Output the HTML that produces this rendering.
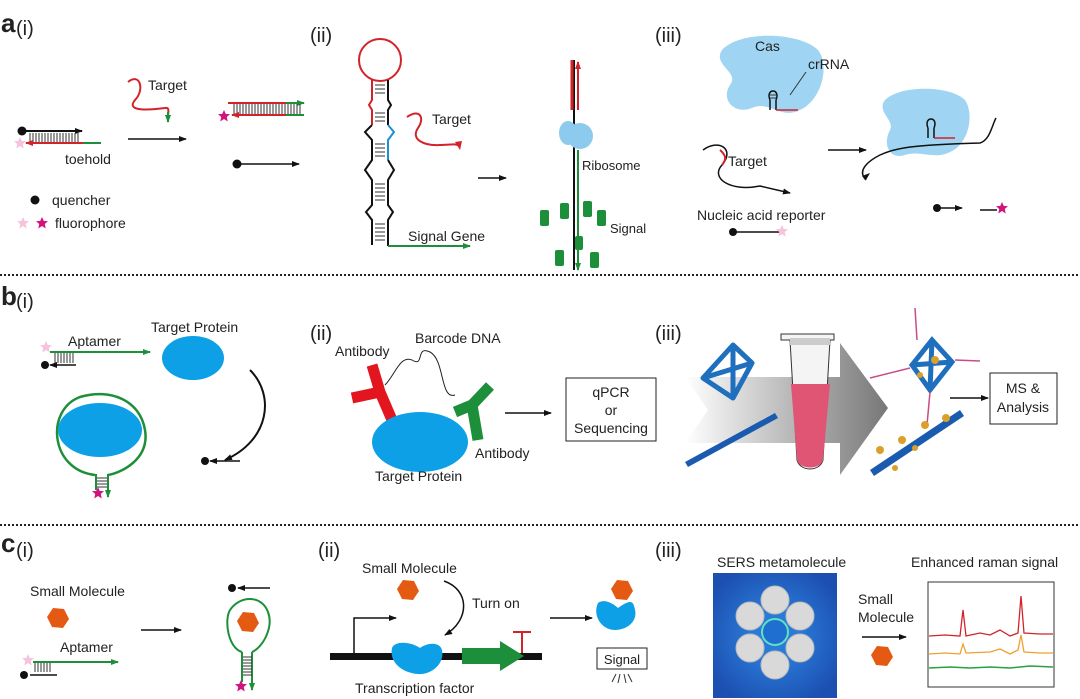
<!DOCTYPE html>
<html><head><meta charset="utf-8"><style>
html,body{margin:0;padding:0;background:#fff}
svg{display:block}
text{font-family:"Liberation Sans",Arial,sans-serif;fill:#222}
</style></head><body>
<svg width="1080" height="699" viewBox="0 0 1080 699" xmlns="http://www.w3.org/2000/svg">
<defs>
<marker id="ak" markerWidth="8" markerHeight="8" refX="7" refY="4" orient="auto" markerUnits="userSpaceOnUse"><path d="M0,1 L8,4 L0,7Z" fill="#111"/></marker>
<marker id="ag" markerWidth="8" markerHeight="8" refX="7" refY="4" orient="auto" markerUnits="userSpaceOnUse"><path d="M0,1 L8,4 L0,7Z" fill="#1d8f3a"/></marker>
<marker id="ar" markerWidth="8" markerHeight="8" refX="7" refY="4" orient="auto" markerUnits="userSpaceOnUse"><path d="M0,1 L8,4 L0,7Z" fill="#d2232a"/></marker>
<linearGradient id="gband" x1="0" x2="1"><stop offset="0" stop-color="#fff"/><stop offset="1" stop-color="#777"/></linearGradient>
<radialGradient id="sers" cx="0.5" cy="0.5" r="0.6"><stop offset="0.3" stop-color="#2a7ad8"/><stop offset="1" stop-color="#1c4fb0"/></radialGradient>
<path id="star" d="M0,-6 L1.8,-2 L6,-1.9 L2.8,1 L3.7,5.5 L0,3 L-3.7,5.5 L-2.8,1 L-6,-1.9 L-1.8,-2Z"/>
<path id="hex" d="M-5,-10 L6,-9 L11,1 L5,10 L-6,9 L-11,-1Z"/>
</defs>

<!-- separators -->
<line x1="0" y1="275" x2="1080" y2="275" stroke="#222" stroke-width="2" stroke-dasharray="2,2"/>
<line x1="0" y1="525" x2="1080" y2="525" stroke="#222" stroke-width="2" stroke-dasharray="2,2"/>

<!-- labels -->
<text x="1" y="32" font-size="26" font-weight="bold" fill="#000">a</text>
<text x="16" y="35" font-size="20">(i)</text>
<text x="310" y="42" font-size="20">(ii)</text>
<text x="655" y="42" font-size="20">(iii)</text>
<text x="1" y="305" font-size="26" font-weight="bold" fill="#000">b</text>
<text x="16" y="308" font-size="20">(i)</text>
<text x="310" y="340" font-size="20">(ii)</text>
<text x="655" y="340" font-size="20">(iii)</text>
<text x="1" y="552" font-size="26" font-weight="bold" fill="#000">c</text>
<text x="16" y="557" font-size="20">(i)</text>
<text x="318" y="557" font-size="20">(ii)</text>
<text x="655" y="557" font-size="20">(iii)</text>

<!-- a(i) -->
<circle cx="22" cy="131" r="4.5" fill="#111"/>
<line x1="22" y1="131" x2="82" y2="131" stroke="#111" stroke-width="2" marker-end="url(#ak)"/>
<g stroke="#333" stroke-width="1">
<path d="M30,133v9M33,133v9M36,133v9M39,133v9M42,133v9M45,133v9M48,133v9M51,133v9M54,133v9M57,133v9M60,133v9M63,133v9M66,133v9M69,133v9M72,133v9M75,133v9M78,133v9"/></g>
<line x1="83" y1="143" x2="26" y2="143" stroke="#d2232a" stroke-width="2" marker-end="url(#ar)"/>
<line x1="83" y1="143" x2="101" y2="143" stroke="#1d8f3a" stroke-width="2"/>
<use href="#star" x="20" y="143" fill="#f5c4dc"/>
<text x="65" y="164" font-size="14">toehold</text>
<path d="M128,82 C140,72 145,90 135,100 C125,112 150,110 165,108 C170,107 168,112 168,118" stroke="#d2232a" stroke-width="2" fill="none"/>
<line x1="168" y1="112" x2="168" y2="122" stroke="#1d8f3a" stroke-width="2" marker-end="url(#ag)"/>
<text x="148" y="90" font-size="14">Target</text>
<line x1="128" y1="139" x2="186" y2="139" stroke="#111" stroke-width="1.5" marker-end="url(#ak)"/>
<line x1="228" y1="103" x2="286" y2="103" stroke="#d2232a" stroke-width="2"/>
<line x1="286" y1="103" x2="304" y2="103" stroke="#1d8f3a" stroke-width="2" marker-end="url(#ag)"/>
<g stroke="#333" stroke-width="1"><path d="M234,104v10M237,104v10M240,104v10M243,104v10M246,104v10M249,104v10M252,104v10M255,104v10M258,104v10M261,104v10M264,104v10M267,104v10M270,104v10M273,104v10M276,104v10M279,104v10M282,104v10M285,104v10M288,104v10M291,104v10M294,104v10M297,104v10M300,104v10"/></g>
<line x1="286" y1="115" x2="232" y2="115" stroke="#d2232a" stroke-width="2" marker-end="url(#ar)"/>
<line x1="286" y1="115" x2="304" y2="115" stroke="#1d8f3a" stroke-width="2"/>
<use href="#star" x="224" y="116" fill="#d0137f"/>
<circle cx="237" cy="164" r="4.5" fill="#111"/>
<line x1="237" y1="164" x2="299" y2="164" stroke="#111" stroke-width="1.5" marker-end="url(#ak)"/>
<circle cx="35" cy="200" r="4.5" fill="#111"/>
<text x="52" y="205" font-size="14">quencher</text>
<use href="#star" x="23" y="223" fill="#f5c4dc"/>
<use href="#star" x="42" y="223" fill="#d0137f"/>
<text x="55" y="228" font-size="14">fluorophore</text>

<!-- a(ii) hairpin -->
<circle cx="380" cy="60" r="21" fill="none" stroke="#d2232a" stroke-width="2"/>
<path d="M372,80 L372,100 L369,105 L372,110 L372,125" stroke="#d2232a" stroke-width="2" fill="none"/>
<path d="M372,125 L365,132 L372,140 L372,160 L365,170 L372,180 L372,205 L366,212 L372,220 L372,245" stroke="#111" stroke-width="2" fill="none"/>
<path d="M388,80 L388,100 L391,105 L388,110 L388,125" stroke="#111" stroke-width="2" fill="none"/>
<path d="M388,125 L394,132 L388,140 L388,160" stroke="#1f8fd0" stroke-width="2" fill="none"/>
<path d="M388,160 L394,170 L388,180 L388,205 L393,212 L388,220 L388,246" stroke="#111" stroke-width="2" fill="none"/>
<g stroke="#333" stroke-width="1"><path d="M375,85h10M375,89h10M375,93h10M375,113h10M375,117h10M375,121h10M375,144h10M375,148h10M375,152h10M375,156h10M375,184h10M375,188h10M375,192h10M375,196h10M375,200h10M375,224h10M375,228h10M375,232h10M375,236h10M375,240h10"/></g>
<line x1="388" y1="246" x2="470" y2="246" stroke="#1d8f3a" stroke-width="2" marker-end="url(#ag)"/>
<text x="408" y="241" font-size="14">Signal Gene</text>
<path d="M407,117 C420,108 425,118 418,128 C410,140 425,146 440,145 C450,145 455,143 460,146" stroke="#d2232a" stroke-width="2" fill="none"/>
<path d="M455,142 L462,141 L460,150Z" fill="#d2232a"/>
<text x="432" y="124" font-size="14">Target</text>
<line x1="478" y1="178" x2="506" y2="178" stroke="#111" stroke-width="1.5" marker-end="url(#ak)"/>
<!-- ribosome -->
<line x1="574" y1="60" x2="574" y2="270" stroke="#111" stroke-width="2"/>
<line x1="572" y1="60" x2="572" y2="110" stroke="#d2232a" stroke-width="3"/>
<line x1="578" y1="110" x2="578" y2="62" stroke="#d2232a" stroke-width="2" marker-end="url(#ar)"/>
<line x1="578" y1="150" x2="578" y2="270" stroke="#1d8f3a" stroke-width="2" marker-end="url(#ag)"/>
<ellipse cx="568" cy="133" rx="9" ry="12" fill="#8ccbee"/><ellipse cx="580" cy="136" rx="13" ry="13" fill="#8ccbee"/>
<text x="582" y="170" font-size="13">Ribosome</text>
<g fill="#1d8f3a"><rect x="560" y="203" width="9" height="16" rx="2"/><rect x="583" y="201" width="9" height="16" rx="2"/><rect x="597" y="210" width="9" height="16" rx="2"/><rect x="540" y="210" width="9" height="16" rx="2"/><rect x="555" y="250" width="9" height="16" rx="2"/><rect x="590" y="252" width="9" height="16" rx="2"/><rect x="575" y="236" width="8" height="14" rx="2"/></g>
<text x="610" y="233" font-size="13">Signal</text>

<!-- a(iii) -->
<path d="M722,50 C740,30 800,32 818,50 C830,65 822,100 800,110 C780,120 770,100 752,108 C735,115 720,100 730,85 C740,72 712,65 722,50Z" fill="#9fd5f2"/>
<text x="755" y="51" font-size="14">Cas</text>
<text x="808" y="69" font-size="14">crRNA</text>
<line x1="806" y1="72" x2="790" y2="95" stroke="#333"/>
<path d="M770,110 V100 M776,110 V100 M770,100 C765,88 781,88 776,100" stroke="#111" fill="none" stroke-width="1.5"/>
<g stroke="#333"><path d="M770,98h6M770,95h6"/></g>
<line x1="776" y1="110" x2="798" y2="110" stroke="#d2232a" stroke-width="1.5"/>
<path d="M703,150 C720,138 735,150 722,165 C710,178 730,192 760,186 L790,193" stroke="#111" stroke-width="1.5" fill="none" marker-end="url(#ak)"/>
<path d="M720,150 C727,156 726,160 722,165" stroke="#d2232a" stroke-width="2" fill="none"/>
<text x="728" y="166" font-size="14">Target</text>
<text x="697" y="220" font-size="14">Nucleic acid reporter</text>
<circle cx="733" cy="232" r="4" fill="#111"/>
<line x1="733" y1="232" x2="780" y2="232" stroke="#111" stroke-width="1.5"/>
<use href="#star" x="782" y="231" fill="#f5c4dc"/>
<line x1="828" y1="150" x2="866" y2="150" stroke="#111" stroke-width="1.5" marker-end="url(#ak)"/>
<path d="M885,100 C900,85 950,85 965,100 C975,115 968,145 950,152 C935,160 920,150 905,155 C890,160 882,145 890,130 C895,120 876,112 885,100Z" fill="#9fd5f2"/>
<path d="M928,138 V128 M934,138 V128 M928,128 C923,116 939,116 934,128" stroke="#111" fill="none" stroke-width="1.5"/>
<line x1="934" y1="138" x2="955" y2="138" stroke="#d2232a" stroke-width="1.5"/>
<path d="M866,180 C856,170 870,160 880,155 C895,148 910,145 980,143 C990,140 992,125 996,118" stroke="#111" stroke-width="1.5" fill="none"/>
<path d="M866,180 L870,173 L862,176Z" fill="#111"/>
<circle cx="937" cy="208" r="4" fill="#111"/>
<line x1="937" y1="208" x2="962" y2="208" stroke="#111" stroke-width="1.5" marker-end="url(#ak)"/>
<line x1="980" y1="210" x2="997" y2="210" stroke="#111" stroke-width="1.5"/>
<use href="#star" x="1002" y="208" fill="#d0137f"/>

<!-- b(i) -->
<use href="#star" x="46" y="347" fill="#f5c4dc"/>
<line x1="50" y1="352" x2="150" y2="352" stroke="#1d8f3a" stroke-width="2" marker-end="url(#ag)"/>
<g stroke="#333"><path d="M55,353v10M58,353v10M61,353v10M64,353v10M67,353v10M70,353v10M73,353v10"/></g>
<circle cx="45" cy="365" r="4" fill="#111"/>
<line x1="76" y1="365" x2="50" y2="365" stroke="#111" stroke-width="1.5" marker-end="url(#ak)"/>
<text x="68" y="346" font-size="14">Aptamer</text>
<text x="151" y="332" font-size="14">Target Protein</text>
<ellipse cx="193" cy="358" rx="31" ry="22" fill="#0ea0e6"/>
<path d="M250,370 C275,395 270,440 225,460" stroke="#111" stroke-width="2" fill="none" marker-end="url(#ak)"/>
<circle cx="205" cy="461" r="4" fill="#111"/>
<line x1="240" y1="461" x2="210" y2="461" stroke="#111" stroke-width="1.5" marker-end="url(#ak)"/>
<path d="M95,475 C50,470 45,410 80,397 C110,388 140,400 145,430 C150,460 120,473 108,475" stroke="#1d8f3a" stroke-width="2.5" fill="none"/>
<ellipse cx="100" cy="430" rx="42" ry="27" fill="#0ea0e6"/>
<line x1="96" y1="474" x2="96" y2="490" stroke="#1d8f3a" stroke-width="2"/>
<line x1="108" y1="474" x2="108" y2="497" stroke="#1d8f3a" stroke-width="2" marker-end="url(#ag)"/>
<g stroke="#333"><path d="M97,478h10M97,481h10M97,484h10M97,487h10"/></g>
<use href="#star" x="98" y="493" fill="#d0137f"/>

<!-- b(ii) -->
<text x="335" y="356" font-size="14">Antibody</text>
<text x="415" y="343" font-size="14">Barcode DNA</text>
<path d="M385,385 C395,375 400,355 412,360 C425,368 415,345 430,352 C445,360 440,400 455,395" stroke="#222" stroke-width="1" fill="none"/>
<g stroke="#e3151f" stroke-width="11" stroke-linecap="butt" fill="none"><path d="M372,365 L380,392 L392,420"/><path d="M352,398 L380,392"/></g>
<ellipse cx="420" cy="442" rx="48" ry="30" fill="#0ea0e6"/>
<g stroke="#1d8f3a" stroke-width="11" fill="none"><path d="M455,412 L472,405 L490,386"/><path d="M472,405 L478,440"/></g>
<text x="475" y="458" font-size="14">Antibody</text>
<text x="375" y="481" font-size="14">Target Protein</text>
<line x1="505" y1="413" x2="551" y2="413" stroke="#111" stroke-width="1.5" marker-end="url(#ak)"/>
<rect x="566" y="378" width="90" height="63" fill="#fff" stroke="#222"/>
<text x="611" y="397" font-size="14" text-anchor="middle">qPCR</text>
<text x="611" y="415" font-size="14" text-anchor="middle">or</text>
<text x="611" y="433" font-size="14" text-anchor="middle">Sequencing</text>

<!-- b(iii) -->
<path d="M685,377 L840,377 L840,343 L888,408 L840,475 L840,443 L685,443 L708,410Z" fill="url(#gband)"/>
<g stroke="#1f6fbf" stroke-width="5" fill="none" stroke-linejoin="round"><path d="M733,345 L752,363 L733,398 L703,378Z M733,345 L733,398 M703,378 L752,363"/></g>
<path d="M685,462 L775,413 L778,418 L688,467Z" fill="#1a5bb0"/>
<path d="M781,334 L834,334 L834,340 L830,340 L823,460 C820,472 800,472 797,460 L790,340 L781,340Z" fill="#f4f4f4" stroke="#333"/>
<path d="M791,384 L830,384 L823,460 C820,470 800,470 797,460Z" fill="#e05474"/>
<rect x="790" y="338" width="40" height="7" fill="#ccc"/>
<g stroke="#1f6fbf" stroke-width="5" fill="none"><path d="M912,365 L932,340 L952,362 L930,390Z M912,365 L952,362 M932,340 L930,390"/></g>
<g stroke="#c84c85" stroke-width="1.5"><path d="M915,308 L917,340 M930,392 L927,425 M870,378 L910,368 M955,360 L980,361"/></g>
<path d="M870,470 L960,410 L964,416 L874,476Z" fill="#1a5bb0"/>
<g fill="#d9a02a"><circle cx="880" cy="450" r="4"/><circle cx="902" cy="440" r="4"/><circle cx="925" cy="425" r="4"/><circle cx="946" cy="418" r="4"/><circle cx="915" cy="448" r="3"/><circle cx="895" cy="468" r="3"/><circle cx="935" cy="360" r="4"/><circle cx="920" cy="375" r="3"/></g>
<line x1="950" y1="398" x2="988" y2="398" stroke="#111" stroke-width="1.5" marker-end="url(#ak)"/>
<rect x="990" y="373" width="67" height="51" fill="#fff" stroke="#222"/>
<text x="1023" y="393" font-size="14" text-anchor="middle">MS &amp;</text>
<text x="1023" y="412" font-size="14" text-anchor="middle">Analysis</text>

<!-- c(i) -->
<text x="30" y="596" font-size="14">Small Molecule</text>
<use href="#hex" x="58" y="618" fill="#e55a12"/>
<text x="60" y="652" font-size="14">Aptamer</text>
<use href="#star" x="28" y="660" fill="#f5c4dc"/>
<line x1="33" y1="662" x2="118" y2="662" stroke="#1d8f3a" stroke-width="2" marker-end="url(#ag)"/>
<g stroke="#333"><path d="M35,663v9M38,663v9M41,663v9M44,663v9M47,663v9M50,663v9"/></g>
<circle cx="24" cy="675" r="4" fill="#111"/>
<line x1="57" y1="675" x2="30" y2="675" stroke="#111" stroke-width="1.5"/>
<line x1="141" y1="630" x2="181" y2="630" stroke="#111" stroke-width="1.5" marker-end="url(#ak)"/>
<circle cx="232" cy="588" r="4" fill="#111"/>
<line x1="270" y1="588" x2="238" y2="588" stroke="#111" stroke-width="1.5" marker-end="url(#ak)"/>
<path d="M242,652 C228,648 224,620 230,610 C240,595 262,595 268,612 C274,628 262,648 252,652" stroke="#1d8f3a" stroke-width="2" fill="none"/>
<use href="#hex" x="248" y="622" fill="#e55a12"/>
<line x1="242" y1="652" x2="242" y2="682" stroke="#1d8f3a" stroke-width="2"/>
<line x1="252" y1="652" x2="252" y2="690" stroke="#1d8f3a" stroke-width="2" marker-end="url(#ag)"/>
<g stroke="#333"><path d="M243,657h9M243,660h9M243,663h9M243,666h9M243,669h9M243,672h9M243,675h9"/></g>
<use href="#star" x="241" y="686" fill="#d0137f"/>

<!-- c(ii) -->
<text x="362" y="573" font-size="14">Small Molecule</text>
<use href="#hex" x="408" y="590" fill="#e55a12"/>
<path d="M444,581 C470,590 470,620 445,635" stroke="#111" stroke-width="1.5" fill="none" marker-end="url(#ak)"/>
<text x="472" y="608" font-size="14">Turn on</text>
<rect x="330" y="653" width="212" height="7" fill="#111"/>
<path d="M354,654 V618 H396" stroke="#111" stroke-width="1.5" fill="none" marker-end="url(#ak)"/>
<path d="M392,648 C395,640 412,642 420,648 C428,642 440,642 442,650 C445,665 430,675 418,674 C402,673 389,662 392,648Z" fill="#0ea0e6"/>
<path d="M462,648 H500 V641 L524,656 L500,671 V664 H462Z" fill="#1d8f3a"/>
<path d="M522,653 V632 M513,632 H531" stroke="#d2232a" stroke-width="2" fill="none"/>
<text x="355" y="693" font-size="14">Transcription factor</text>
<line x1="550" y1="618" x2="592" y2="618" stroke="#111" stroke-width="1.5" marker-end="url(#ak)"/>
<path d="M598,603 C604,598 614,604 618,608 C624,604 632,598 634,606 C640,622 626,630 615,630 C602,630 592,616 598,603Z" fill="#0ea0e6"/>
<use href="#hex" x="622" y="590" fill="#e55a12"/>
<rect x="597" y="648" width="50" height="21" fill="#fff" stroke="#222"/>
<text x="622" y="664" font-size="13" text-anchor="middle">Signal</text>
<g stroke="#333"><path d="M612,682 L616,674 M618,683 L620,674 M624,674 L626,683 M628,674 L632,682"/></g>

<!-- c(iii) -->
<text x="717" y="567" font-size="14">SERS metamolecule</text>
<rect x="713" y="573" width="124" height="125" fill="url(#sers)"/>
<g fill="#d9d9d9" stroke="#bbb">
<circle cx="775" cy="600" r="14"/><circle cx="800" cy="616" r="14"/><circle cx="800" cy="648" r="14"/><circle cx="775" cy="665" r="14"/><circle cx="750" cy="648" r="14"/><circle cx="750" cy="616" r="14"/></g>
<circle cx="775" cy="632" r="13" fill="#1f6fd0" stroke="#5fe0c0" stroke-width="2"/>
<text x="858" y="604" font-size="14">Small</text>
<text x="858" y="622" font-size="14">Molecule</text>
<line x1="862" y1="637" x2="906" y2="637" stroke="#111" stroke-width="1.5" marker-end="url(#ak)"/>
<use href="#hex" x="882" y="656" fill="#e55a12"/>
<text x="911" y="567" font-size="14">Enhanced raman signal</text>
<rect x="928" y="582" width="126" height="105" fill="#fff" stroke="#333"/>
<polyline points="929,636 945,635 960,636 963,610 966,636 980,633 990,635 1000,630 1010,636 1018,633 1021,596 1024,633 1040,634 1053,634" fill="none" stroke="#d2232a" stroke-width="1.3"/>
<polyline points="929,654 945,653 960,654 963,644 966,653 990,652 1000,649 1010,654 1018,650 1021,635 1024,652 1040,653 1053,653" fill="none" stroke="#f0a030" stroke-width="1.3"/>
<polyline points="929,668 950,667 970,668 990,667 1010,668 1030,666 1053,667" fill="none" stroke="#2aa040" stroke-width="1.5"/>
</svg>
</body></html>
